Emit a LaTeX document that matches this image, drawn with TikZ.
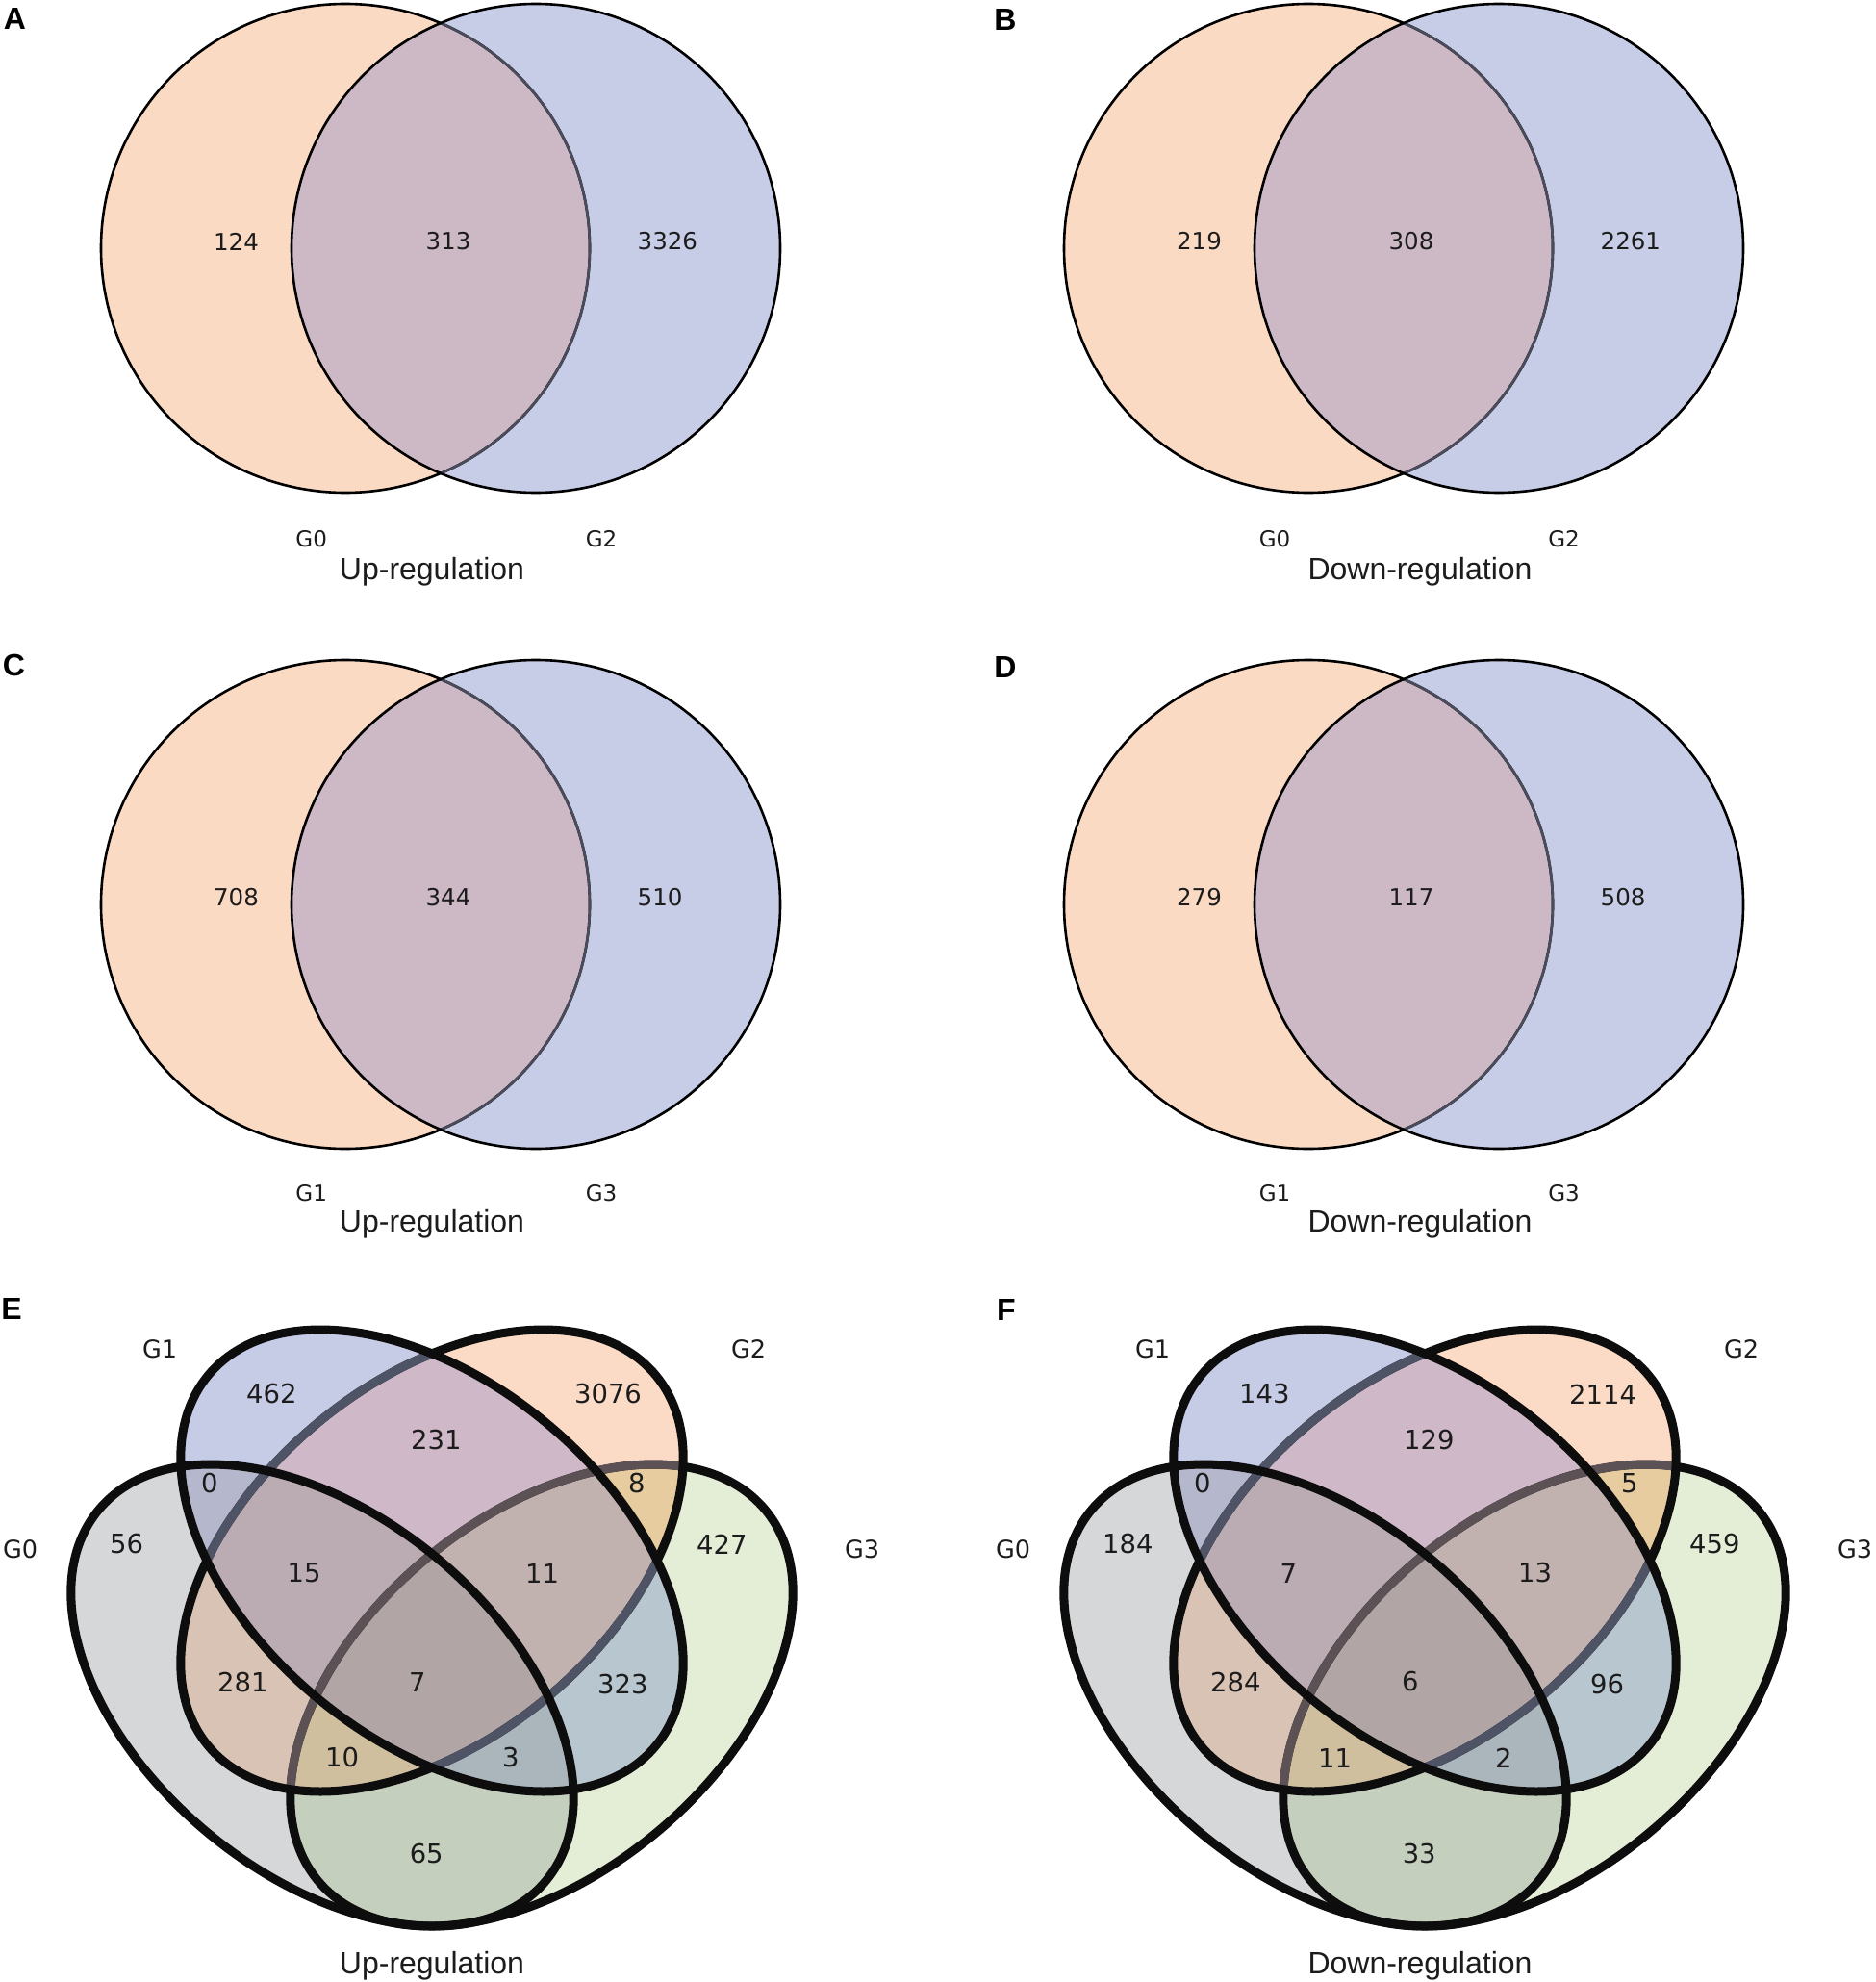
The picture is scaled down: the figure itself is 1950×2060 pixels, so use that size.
\documentclass[tikz,border=0pt]{standalone}
\usepackage{fontspec}
\setmainfont{DejaVu Sans}
\newfontfamily\arialfont{Liberation Sans}
\definecolor{cpeach}{HTML}{FBDAC4}
\definecolor{clav}{HTML}{C8CDE7}
\definecolor{cmauve}{HTML}{CDB8C5}
\definecolor{innergray}{HTML}{4A4C5C}
\definecolor{txt}{HTML}{1C1C1C}
% four-set colours
\definecolor{cZ}{HTML}{D5D7D9}
\definecolor{cO}{HTML}{C6CBE6}
\definecolor{cT}{HTML}{FBDBC6}
\definecolor{cH}{HTML}{E4EED6}
\definecolor{cZO}{HTML}{B5B7CC}
\definecolor{cZT}{HTML}{D9C3B4}
\definecolor{cZH}{HTML}{C4CFBD}
\definecolor{cOT}{HTML}{CFB8C8}
\definecolor{cOH}{HTML}{B8C7CF}
\definecolor{cTH}{HTML}{E6CC9F}
\definecolor{cZOT}{HTML}{BBABB3}
\definecolor{cZOH}{HTML}{AAB5BC}
\definecolor{cZTH}{HTML}{CFBF9F}
\definecolor{cOTH}{HTML}{C1B2B0}
\definecolor{cALL}{HTML}{B1A6A5}
\definecolor{gTwo}{HTML}{4E5366}
\definecolor{gThree}{HTML}{5C5256}
% ellipses of the four-set diagrams (panel-local coordinates)
\newcommand{\EZ}{[rotate around={-39.6:(335,1762)}] (335,1762) ellipse [x radius=302, y radius=186]}
\newcommand{\EO}{[rotate around={-39.6:(449,1622)}] (449,1622) ellipse [x radius=302, y radius=186]}
\newcommand{\ET}{[rotate around={39.6:(449,1622)}] (449,1622) ellipse [x radius=302, y radius=186]}
\newcommand{\EH}{[rotate around={39.6:(563,1762)}] (563,1762) ellipse [x radius=302, y radius=186]}
\newcommand{\fourshapes}{%
  \fill[cZ]\EZ; \fill[cO]\EO; \fill[cT]\ET; \fill[cH]\EH;
  \begin{scope}\clip\EZ; \fill[cZO]\EO; \end{scope}
  \begin{scope}\clip\EZ; \fill[cZT]\ET; \end{scope}
  \begin{scope}\clip\EZ; \fill[cZH]\EH; \end{scope}
  \begin{scope}\clip\EO; \fill[cOT]\ET; \end{scope}
  \begin{scope}\clip\EO; \fill[cOH]\EH; \end{scope}
  \begin{scope}\clip\ET; \fill[cTH]\EH; \end{scope}
  \begin{scope}\clip\EZ; \clip\EO; \fill[cZOT]\ET; \end{scope}
  \begin{scope}\clip\EZ; \clip\EO; \fill[cZOH]\EH; \end{scope}
  \begin{scope}\clip\EZ; \clip\ET; \fill[cZTH]\EH; \end{scope}
  \begin{scope}\clip\EO; \clip\ET; \fill[cOTH]\EH; \end{scope}
  \begin{scope}\clip\EZ; \clip\EO; \clip\ET; \fill[cALL]\EH; \end{scope}
  \draw[vline]\EH;
  \begin{scope}\clip\ET; \draw[vline, draw=gThree]\EH; \end{scope}
  \draw[vline]\ET;
  \begin{scope}\clip\EO; \draw[vline, draw=gTwo]\ET; \end{scope}
  \draw[vline]\EZ;
  \draw[vline]\EO;
}
% two-set diagram
\newcommand{\twovenn}[6]{%
  \begin{scope}[shift={(#1,#2)}]
    \fill[cpeach] (359,258) circle [radius=254];
    \fill[clav] (557,258) circle [radius=254];
    \begin{scope}\clip (359,258) circle [radius=254]; \fill[cmauve] (557,258) circle [radius=254]; \end{scope}
    \draw[circ] (359,258) circle [radius=254];
    \begin{scope}\clip (557,258) circle [radius=254]; \draw[circ, draw=innergray] (359,258) circle [radius=254]; \end{scope}
    \draw[circ] (557,258) circle [radius=254];
    \node[numtwo] (#6l) at (245.5,251) {#3};
    \node[numtwo] (#6m) at (466,251) {#4};
    \node[numtwo, anchor=west] (#6r) at (662.5,251) {#5};
  \end{scope}}
\begin{document}
\begin{tikzpicture}[x=1pt, y=-1pt,
  circ/.style={line width=2.6pt, draw=black},
  vline/.style={line width=9pt, draw=black!95},
  numtwo/.style={inner sep=0pt, text=txt, font=\fontsize{24.5}{28}\selectfont},
  gtwo/.style={inner sep=0pt, text=txt, font=\fontsize{23}{27}\selectfont},
  numfour/.style={inner sep=0pt, text=txt, anchor=west, font=\fontsize{27.4}{32}\selectfont},
  gfour/.style={inner sep=0pt, text=txt, font=\fontsize{25.5}{30}\selectfont},
  ttl/.style={inner sep=0pt, text=txt, anchor=base, font=\arialfont\fontsize{32}{36}\selectfont},
  plabel/.style={inner sep=0pt, text=black, font=\arialfont\bfseries\fontsize{32}{36}\selectfont}]
\useasboundingbox (0,0) rectangle (1950,2060);
\fill[white] (0,0) rectangle (1950,2060);

% ---------- A ----------
\twovenn{0}{0}{124}{313}{3326}{a}
\node[gtwo] (aG0) at (323.7,560.5) {G0};
\node[gtwo] (aG2) at (625,560.5) {G2};
\node[ttl] (aT) at (449,602.7) {Up-regulation};
\node[plabel] (pA) at (15.5,19.5) {A};

% ---------- B ----------
\twovenn{1001}{0}{219}{308}{2261}{b}
\node[gtwo] (bG0) at (1325,560.5) {G0};
\node[gtwo] (bG2) at (1625.5,560.5) {G2};
\node[ttl] (bT) at (1476,602.7) {Down-regulation};
\node[plabel] (pB) at (1045,20) {B};

% ---------- C ----------
\twovenn{0}{682}{708}{344}{510}{c}
\node[gtwo] (cG1) at (323.7,1240.5) {G1};
\node[gtwo] (cG3) at (625,1240.5) {G3};
\node[ttl] (cT) at (449,1280.7) {Up-regulation};
\node[plabel] (pC) at (14.5,691) {C};

% ---------- D ----------
\twovenn{1001}{682}{279}{117}{508}{d}
\node[gtwo] (dG1) at (1325,1240.5) {G1};
\node[gtwo] (dG3) at (1625.5,1240.5) {G3};
\node[ttl] (dT) at (1476,1280.7) {Down-regulation};
\node[plabel] (pD) at (1045,693) {D};

% ---------- E ----------
\begin{scope}
  \fourshapes
  \node[numfour] (e1) at (256,1449) {462};
  \node[numfour] (e2) at (597,1449) {3076};
  \node[numfour] (e3) at (427,1497) {231};
  \node[numfour] (e4) at (209,1542) {0};
  \node[numfour] (e5) at (653,1542) {8};
  \node[numfour] (e6) at (114,1605) {56};
  \node[numfour] (e7) at (724,1605) {427};
  \node[numfour] (e8) at (298.5,1635) {15};
  \node[numfour] (e9) at (546,1635) {11};
  \node[numfour] (e10) at (226,1749) {281};
  \node[numfour] (e11) at (425,1748) {7};
  \node[numfour] (e12) at (621,1751) {323};
  \node[numfour] (e13) at (338,1827) {10};
  \node[numfour] (e14) at (522,1827) {3};
  \node[numfour] (e15) at (425.6,1927) {65};
  \node[gfour] (eG1) at (166,1402) {G1};
  \node[gfour] (eG2) at (778,1402) {G2};
  \node[gfour] (eG0) at (21,1610) {G0};
  \node[gfour] (eG3) at (896,1610) {G3};
\end{scope}
\node[ttl] (eT) at (449,2051) {Up-regulation};
\node[plabel] (pE) at (12,1360.5) {E};

% ---------- F ----------
\begin{scope}[shift={(1032,0)}]
  \fourshapes
  \node[numfour] (f1) at (256,1449) {143};
  \node[numfour] (f2) at (599,1449) {2114};
  \node[numfour] (f3) at (427,1497) {129};
  \node[numfour] (f4) at (209,1542) {0};
  \node[numfour] (f5) at (653,1542) {5};
  \node[numfour] (f6) at (114,1605) {184};
  \node[numfour] (f7) at (724,1605) {459};
  \node[numfour] (f8) at (298.5,1635) {7};
  \node[numfour] (f9) at (546,1635) {13};
  \node[numfour] (f10) at (226,1749) {284};
  \node[numfour] (f11) at (425,1748) {6};
  \node[numfour] (f12) at (621,1751) {96};
  \node[numfour] (f13) at (338,1827) {11};
  \node[numfour] (f14) at (522,1827) {2};
  \node[numfour] (f15) at (425.6,1927) {33};
  \node[gfour] (fG1) at (166,1402) {G1};
  \node[gfour] (fG2) at (778,1402) {G2};
  \node[gfour] (fG0) at (21,1610) {G0};
  \node[gfour] (fG3) at (896,1610) {G3};
\end{scope}
\node[ttl] (fT) at (1476,2051) {Down-regulation};
\node[plabel] (pF) at (1046,1361) {F};
\end{tikzpicture}
\end{document}
